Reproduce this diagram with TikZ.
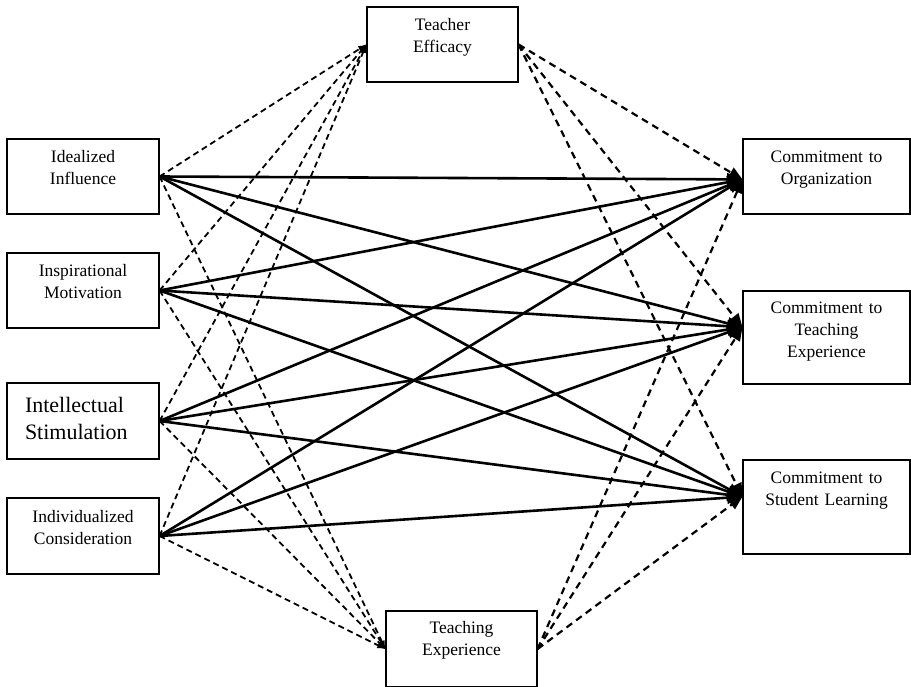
\documentclass[tikz,border=0pt]{standalone}
\usepackage{fontspec}
\setmainfont{Liberation Serif}
\usetikzlibrary{shapes}
\usetikzlibrary{arrows}

\begin{document}
\begin{tikzpicture}[x=1pt,y=-1pt]
	\tikzstyle{box}=[draw,line width=1.2pt,inner sep=0pt,align=center,font=\fontsize{17.5}{22}\selectfont]
	\tikzstyle{effect}=[line width=2.6pt,-triangle 45]
	\tikzstyle{mediate}=[line width=1.8pt,dash pattern=on 6pt off 4pt,-latex]
	\tikzstyle{moderate}=[line width=2.2pt,dash pattern=on 7pt off 5pt,-triangle 45]

	\useasboundingbox (0,0) rectangle (911,687);

	% moderators
	\node[box,text width=151pt,text height=24pt,text depth=51pt] (te) at (442.5,44.5) {Teacher\\ Efficacy};
	\node[box,text width=151pt,text height=22pt,text depth=54pt] (tx) at (461.5,649) {Teaching\\ Experience};

	% leadership dimensions
	\node[box,text width=152pt,text height=24pt,text depth=51pt] (ii) at (83,176.5) {Idealized\\ Influence};
	\node[box,text width=152pt,text height=24pt,text depth=51pt] (im) at (83,290.5) {Inspirational\\ Motivation};
	\node[box,align=left,inner xsep=18pt,text width=116pt,text height=29pt,text depth=47pt,font=\fontsize{22}{27}\selectfont] (is) at (83,421) {Intellectual\\ Stimulation};
	\node[box,text width=152pt,text height=24pt,text depth=52pt] (ic) at (83,536) {Individualized\\ Consideration};

	% commitment
	\node[box,text width=167pt,text height=24pt,text depth=51pt] (co) at (826.5,176.5) {Commitment to\\ Organization};
	\node[box,text width=167pt,text height=22pt,text depth=71pt] (ct) at (826.5,337.5) {Commitment to\\ Teaching\\ Experience};
	\node[box,text width=167pt,text height=23pt,text depth=71pt] (cs) at (826.5,507) {Commitment to\\ Student Learning};

	\foreach \a in {ii,im,is,ic} {
		\draw[mediate] (\a.east) -- (te.west);
		\draw[mediate] (\a.east) -- (tx.west);
		\draw[effect] (\a.east) -- (co.182.4);
		\draw[effect] (\a.east) -- (ct.173.5);
		\draw[effect] (\a.east) -- (cs.173.2);
	}
	\foreach \m in {te,tx} {
		\draw[moderate] (\m.east) -- (co.182.4);
		\draw[moderate] (\m.east) -- (ct.173.5);
		\draw[moderate] (\m.east) -- (cs.173.2);
	}
\end{tikzpicture}
\end{document}
